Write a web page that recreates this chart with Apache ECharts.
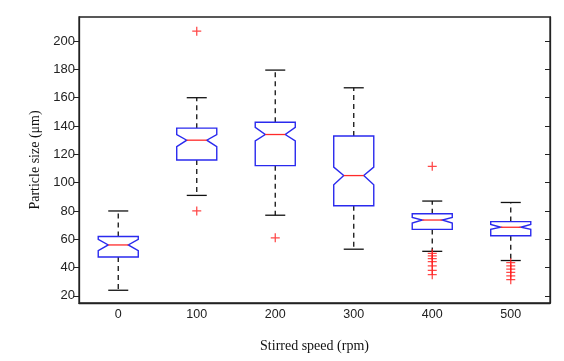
<!DOCTYPE html>
<html>
<head>
<meta charset="utf-8">
<script src="https://cdn.jsdelivr.net/npm/echarts@6/dist/echarts.min.js"></script>
<style>
  html, body { margin: 0; padding: 0; background: #fff; }
  #main { width: 564px; height: 361px; }
</style>
</head>
<body>
<div id="main"></div>
<script>
// 搅拌速度 (rpm)
const speeds = ['0', '100', '200', '300', '400', '500'];

// 箱线图各统计量
const whiskerLow = [24, 91, 77, 53, 51.5, 45];
const q1 = [47.5, 116, 112, 83.7, 67, 62.5];
const notchLow = [52, 125.5, 129.5, 98.5, 71.5, 67];
const median = [56, 130, 134, 105, 73.6, 68.5];
const notchHigh = [60, 134, 139, 111, 75.5, 70.5];
const q3 = [62, 138.5, 142.7, 133, 78, 72.5];
const whiskerHigh = [80, 160, 179.5, 167, 87, 86];

// 异常值 [类别序号, 数值]
const outliers = [
  [1, 207], [1, 80],
  [2, 61],
  [4, 111.5], [4, 50], [4, 48.3], [4, 46.3], [4, 44.2], [4, 41.3], [4, 38], [4, 35],
  [5, 43.5], [5, 41.3], [5, 39], [5, 36.6], [5, 34.2], [5, 31.5]
];

const yTicks = [20, 40, 60, 80, 100, 120, 140, 160, 180, 200];

let boxData = speeds.map((s, i) => [i, whiskerLow[i], q1[i], notchLow[i], median[i], notchHigh[i], q3[i], whiskerHigh[i]]);

function renderBox(params, api) {
  let i = api.value(0);
  let cx = api.coord([i, 0])[0];
  let hw = api.size([1, 0])[0] * 0.255;
  let y = v => api.coord([i, api.value(v)])[1];
  let lo = y(1), b1 = y(2), nl = y(3), md = y(4), nh = y(5), b3 = y(6), hi = y(7);
  let black = { stroke: '#111', lineWidth: 1.3 };
  let dashed = { stroke: '#111', lineWidth: 1.3, lineDash: [5, 4] };
  return {
    type: 'group',
    children: [
      { type: 'line', shape: { x1: cx, y1: b3, x2: cx, y2: hi }, style: dashed },
      { type: 'line', shape: { x1: cx, y1: b1, x2: cx, y2: lo }, style: dashed },
      { type: 'line', shape: { x1: cx - hw / 2, y1: hi, x2: cx + hw / 2, y2: hi }, style: black },
      { type: 'line', shape: { x1: cx - hw / 2, y1: lo, x2: cx + hw / 2, y2: lo }, style: black },
      {
        type: 'polygon',
        shape: {
          points: [
            [cx - hw, b3], [cx + hw, b3], [cx + hw, nh], [cx + hw / 2, md], [cx + hw, nl],
            [cx + hw, b1], [cx - hw, b1], [cx - hw, nl], [cx - hw / 2, md], [cx - hw, nh]
          ]
        },
        style: { fill: '#fff', stroke: '#2a2aee', lineWidth: 1.4 }
      },
      { type: 'line', shape: { x1: cx - hw / 2, y1: md, x2: cx + hw / 2, y2: md }, style: { stroke: '#ff2a2a', lineWidth: 1.3 } }
    ]
  };
}

let myChart = echarts.init(document.getElementById('main'));
let option = {
  animation: false,
  grid: {
    left: 79,
    right: 14,
    top: 17,
    bottom: 58,
    show: true,
    borderColor: '#222',
    borderWidth: 1.3
  },
  xAxis: {
    type: 'category',
    data: speeds,
    name: 'Stirred speed (rpm)',
    nameLocation: 'middle',
    nameGap: 36,
    nameTextStyle: { fontFamily: 'Liberation Serif', fontSize: 14, color: '#111' },
    axisLine: { lineStyle: { color: '#222', width: 1.3 } },
    axisTick: { show: false },
    axisLabel: { fontFamily: 'Liberation Sans', fontSize: 12.5, color: '#222', margin: 5 },
    splitLine: { show: false }
  },
  yAxis: [
    {
      type: 'value',
      min: 15,
      max: 217,
      name: 'Particle size (μm)',
      nameLocation: 'middle',
      nameGap: 35,
      nameTextStyle: { fontFamily: 'Liberation Serif', fontSize: 14, color: '#111' },
      axisLine: { show: true, lineStyle: { color: '#222', width: 1.3 } },
      axisTick: { show: true, inside: false, length: 5, customValues: yTicks, lineStyle: { color: '#222' } },
      axisLabel: { fontFamily: 'Liberation Sans', fontSize: 13, color: '#222', margin: 4, customValues: yTicks },
      splitLine: { show: false }
    },
    {
      type: 'value',
      min: 15,
      max: 217,
      position: 'right',
      axisLine: { show: true, lineStyle: { color: '#222', width: 1.3 } },
      axisTick: { show: true, inside: true, length: 5, customValues: yTicks, lineStyle: { color: '#222' } },
      axisLabel: { show: false },
      splitLine: { show: false }
    }
  ],
  series: [
    {
      type: 'custom',
      renderItem: renderBox,
      data: boxData,
      encode: { x: 0, y: [1, 7] }
    },
    {
      type: 'scatter',
      data: outliers,
      symbol: 'path://M4.3,0H5.7V4.3H10V5.7H5.7V10H4.3V5.7H0V4.3H4.3Z',
      symbolSize: 9,
      itemStyle: { color: '#ff1a1a' }
    }
  ]
};
myChart.setOption(option);
</script>
</body>
</html>
